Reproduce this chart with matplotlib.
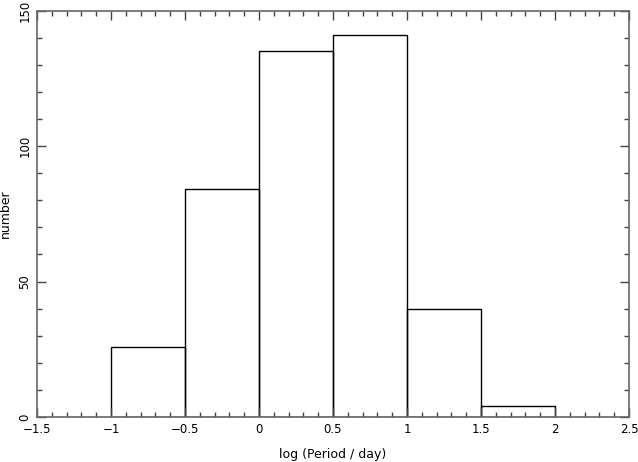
import matplotlib
matplotlib.use("Agg")
import matplotlib.pyplot as plt
from matplotlib.ticker import MultipleLocator

bin_left = [-1.0, -0.5, 0.0, 0.5, 1.0, 1.5]
bin_width = 0.5
counts = [26, 84, 135, 141, 40, 4]

plt.rcParams['font.family'] = ['DejaVu Sans']
fig = plt.figure(figsize=(6.38, 4.62), dpi=100)
ax = fig.add_axes([37/638, 45/462, (629-37)/638, (417-10.7)/462])
ax.bar(bin_left, counts, width=bin_width, align='edge', fill=False,
       edgecolor='black', linewidth=1.0)
ax.set_xlim(-1.5, 2.5)
ax.set_ylim(0, 150)
ax.xaxis.set_major_locator(MultipleLocator(0.5))
ax.xaxis.set_minor_locator(MultipleLocator(0.1))
ax.yaxis.set_major_locator(MultipleLocator(50))
ax.yaxis.set_minor_locator(MultipleLocator(10))
ax.tick_params(which='both', direction='in', top=True, right=True,
               color='#444444', labelsize=8.5, pad=4)
ax.tick_params(which='major', length=6.5, width=1)
ax.tick_params(which='minor', length=3.5, width=1)
for s in ax.spines.values():
    s.set_color('#666666')
    s.set_linewidth(1.2)
ax.set_xticks([-1.5, -1, -0.5, 0, 0.5, 1, 1.5, 2, 2.5])
ax.set_xticklabels(['\u22121.5', '\u22121', '\u22120.5', '0', '0.5', '1', '1.5', '2', '2.5'])
for lbl in ax.get_yticklabels():
    lbl.set_rotation(90)
    lbl.set_va('center')
ax.set_xlabel('log (Period / day)', fontsize=9, labelpad=9)
ax.set_ylabel('number', fontsize=9, labelpad=5)
fig.savefig('out.png', dpi=100)
